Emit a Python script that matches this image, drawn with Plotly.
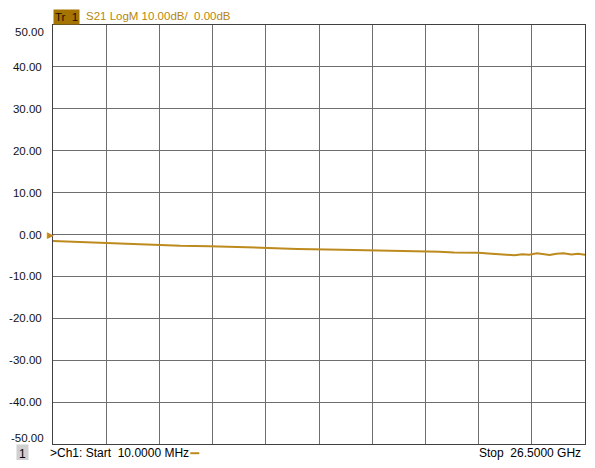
import plotly.graph_objects as go

# S21 trace, frequency in GHz, magnitude in dB
freq_ghz = [0.01, 1.23, 2.44, 3.90, 5.37, 6.34, 7.80, 9.26, 10.72, 12.18,
            13.16, 14.37, 15.59, 17.05, 18.51, 19.24, 19.97, 20.70, 21.19,
            21.68, 22.17, 22.65, 22.99, 23.38, 23.72, 24.11, 24.45, 24.74,
            25.08, 25.43, 25.82, 26.16, 26.50]
s21_db = [-1.55, -1.8, -2.0, -2.25, -2.5, -2.7, -2.8, -2.95, -3.2, -3.45,
          -3.6, -3.65, -3.75, -3.85, -4.0, -4.1, -4.3, -4.3, -4.35,
          -4.55, -4.7, -4.85, -4.95, -4.7, -4.85, -4.5, -4.7, -4.9,
          -4.6, -4.5, -4.75, -4.6, -4.85]

y_ticks = [50, 40, 30, 20, 10, 0, -10, -20, -30, -40, -50]
y_labels = ["50.00", "40.00", "30.00", "20.00", "10.00", "0.00",
            "-10.00", "-20.00", "-30.00", "-40.00", "-50.00"]

start_ghz = 0.01
stop_ghz = 26.5
n_div = 10
x_grid = [start_ghz + i * (stop_ghz - start_ghz) / n_div for i in range(n_div + 1)]

TRACE = "#BD8A1E"
FONT = "Liberation Sans, Arial, sans-serif"
TICK_FONT = dict(family=FONT, size=11.5, color="#111111")

fig = go.Figure()
fig.add_trace(go.Scatter(
    x=freq_ghz, y=s21_db, mode="lines",
    line=dict(color=TRACE, width=2),
    hoverinfo="skip", showlegend=False,
))

# the page body has an 8px margin; keep the page inside the window
fig.update_layout(
    width=579, height=452,
    margin=dict(l=42, r=1, t=17, b=16),
    paper_bgcolor="white", plot_bgcolor="white",
    font=dict(family=FONT, size=12, color="black"),
    xaxis=dict(
        range=[start_ghz, stop_ghz], tickvals=x_grid, showticklabels=False,
        showgrid=True, gridcolor="#6e6e6e", gridwidth=1, zeroline=False,
        showline=True, linecolor="#404040", linewidth=1, mirror=True, ticks="",
    ),
    yaxis=dict(
        range=[-50, 50], tickvals=y_ticks[1:-1], ticktext=y_labels[1:-1],
        showgrid=True, gridcolor="#6e6e6e", gridwidth=1, zeroline=False,
        showline=True, linecolor="#404040", linewidth=1, mirror=True,
        ticks="", ticklabelstandoff=8, tickfont=TICK_FONT,
    ),
)

# end labels sit just inside the frame, like on the analyser screen
for val, lab, shift in [(y_ticks[0], y_labels[0], -7), (y_ticks[-1], y_labels[-1], 6)]:
    fig.add_annotation(
        xref="paper", yref="y", x=0, y=val, xanchor="right", yanchor="middle",
        text=lab, showarrow=False, xshift=-7, yshift=shift, font=TICK_FONT,
    )

# header: trace tag + format
fig.add_annotation(
    xref="paper", yref="paper", x=0, y=1, xanchor="left", yanchor="bottom",
    text="Tr  1", showarrow=False, bgcolor="#A57400", borderpad=1,
    font=dict(family=FONT, size=11.5, color="#1a1000"),
)
fig.add_annotation(
    xref="paper", yref="paper", x=0, y=1, xanchor="left", yanchor="bottom",
    text="S21 LogM 10.00dB/  0.00dB", showarrow=False, xshift=31, yshift=1,
    font=dict(family=FONT, size=11.5, color="#B8860B"),
)

# reference level marker
fig.add_annotation(
    xref="paper", yref="y", x=0, y=0, xanchor="right", yanchor="middle",
    text="▶", showarrow=False, xshift=3,
    font=dict(size=9, color="#C08A1E"),
)

# footer
fig.add_annotation(
    xref="paper", yref="paper", x=0, y=0, xanchor="left", yanchor="top",
    text="1", showarrow=False, xshift=-37, yshift=0, bgcolor="#d0d0d0",
    borderpad=2, font=dict(family=FONT, size=12, color="black"),
)
fig.add_annotation(
    xref="paper", yref="paper", x=0, y=0, xanchor="left", yanchor="top",
    text=">Ch1: Start  10.0000 MHz", showarrow=False, xshift=-5, yshift=0,
    font=dict(family=FONT, size=12, color="black"),
)
fig.add_shape(
    type="line", xref="paper", yref="paper", x0=0.258, x1=0.275,
    y0=-0.022, y1=-0.022, line=dict(color=TRACE, width=2),
)
fig.add_annotation(
    xref="paper", yref="paper", x=1, y=0, xanchor="right", yanchor="top",
    text="Stop  26.5000 GHz", showarrow=False, xshift=-2, yshift=0,
    font=dict(family=FONT, size=12, color="black"),
)

fig.write_html("out.html")
